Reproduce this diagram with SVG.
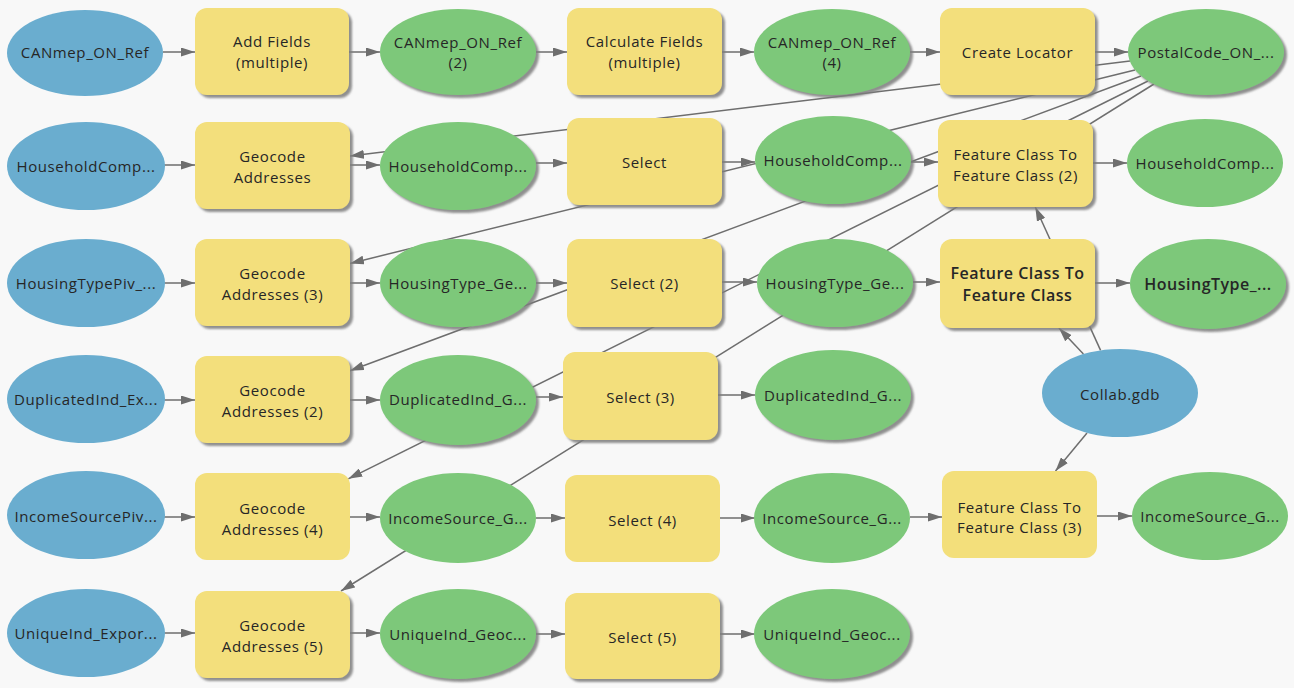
<svg xmlns="http://www.w3.org/2000/svg" width="1294" height="688" viewBox="0 0 1294 688">
  <defs>
    <style>
      .bg { fill: #f8f8f8; }
      .data { fill: #6aadcf; }
      .out { fill: #7dc87a; }
      .tool { fill: #f3df7b; }
      .lbl { font-family: "Open Sans", "Noto Sans", sans-serif; font-size: 15px; letter-spacing: 0.6px; fill: #262626; text-anchor: middle; }
      .big { font-size: 16px; font-weight: 600; letter-spacing: 0.5px; }
      .conn line { stroke: #6e6e6e; stroke-width: 1.5; fill: none; marker-end: url(#arrow); }
    </style>
    <marker id="arrow" viewBox="0 0 14 9" markerWidth="14" markerHeight="9" refX="14" refY="4.5" markerUnits="userSpaceOnUse" orient="auto">
      <path d="M0,0 L14,4.5 L0,9 z" fill="#6e6e6e"/>
    </marker>
    <filter id="sh" x="-10%" y="-10%" width="125%" height="125%">
      <feGaussianBlur in="SourceAlpha" stdDeviation="1"/>
      <feOffset dx="3" dy="3" result="o"/>
      <feFlood flood-color="#7d7d7d" flood-opacity="0.85"/>
      <feComposite in2="o" operator="in"/>
      <feMerge><feMergeNode/><feMergeNode in="SourceGraphic"/></feMerge>
    </filter>
  </defs>

  <rect class="bg" x="0" y="0" width="1294" height="688"/>

  <!-- connectors (drawn beneath the nodes) -->
  <g id="connectors" class="conn">
    <!-- row 1 -->
    <line x1="163" y1="52" x2="195" y2="52"/>
    <line x1="349" y1="52" x2="380" y2="52"/>
    <line x1="536" y1="52" x2="567" y2="52"/>
    <line x1="722" y1="52" x2="754" y2="52"/>
    <line x1="910" y1="52" x2="940" y2="52"/>
    <line x1="1095" y1="52" x2="1128" y2="52"/>
    <!-- row 2 -->
    <line x1="164" y1="165" x2="195" y2="165"/>
    <line x1="350" y1="165" x2="380" y2="165"/>
    <line x1="536" y1="163" x2="567" y2="163"/>
    <line x1="722" y1="162" x2="755" y2="162"/>
    <line x1="911" y1="162" x2="938" y2="162"/>
    <line x1="1093" y1="163" x2="1127" y2="163"/>
    <!-- row 3 -->
    <line x1="164" y1="283" x2="195" y2="283"/>
    <line x1="350" y1="283" x2="380" y2="283"/>
    <line x1="536" y1="283" x2="567" y2="283"/>
    <line x1="722" y1="282" x2="757" y2="282"/>
    <line x1="913" y1="282" x2="940" y2="282"/>
    <line x1="1095" y1="283" x2="1130" y2="283"/>
    <!-- row 4 -->
    <line x1="164" y1="400" x2="195" y2="400"/>
    <line x1="350" y1="400" x2="380" y2="400"/>
    <line x1="536" y1="397" x2="563" y2="397"/>
    <line x1="718" y1="395" x2="755" y2="395"/>
    <!-- row 5 -->
    <line x1="164" y1="517" x2="195" y2="517"/>
    <line x1="350" y1="517" x2="380" y2="517"/>
    <line x1="536" y1="518" x2="565" y2="518"/>
    <line x1="720" y1="518" x2="755" y2="518"/>
    <line x1="910" y1="517" x2="942" y2="517"/>
    <line x1="1097" y1="516" x2="1132" y2="516"/>
    <!-- row 6 -->
    <line x1="164" y1="633" x2="195" y2="633"/>
    <line x1="350" y1="633" x2="380" y2="633"/>
    <line x1="536" y1="634" x2="565" y2="634"/>
    <line x1="720" y1="634" x2="755" y2="634"/>
    <!-- locator feeding every geocode tool -->
    <line x1="1130" y1="61" x2="350" y2="156"/>
    <line x1="1135" y1="70" x2="350" y2="263.4"/>
    <line x1="1141" y1="76" x2="350" y2="370.7"/>
    <line x1="1148" y1="81" x2="348.3" y2="478.8"/>
    <line x1="1154" y1="84" x2="341" y2="591"/>
    <!-- workspace feeding the export tools -->
    <line x1="1100.6" y1="350.4" x2="1035.3" y2="207"/>
    <line x1="1083.4" y1="354.1" x2="1058.9" y2="328"/>
    <line x1="1087" y1="432.9" x2="1055.5" y2="471"/>
  </g>

  <!-- row 1 -->
  <g id="canmep-on-ref"><ellipse class="data" cx="85" cy="53" rx="78" ry="43"/><text class="lbl" x="85" y="58">CANmep_ON_Ref</text></g>
  <g id="add-fields"><rect class="tool" filter="url(#sh)" x="195" y="8" width="154" height="87" rx="12"/><text class="lbl" x="272" y="47">Add Fields</text><text class="lbl" x="272" y="67.5">(multiple)</text></g>
  <g id="canmep-on-ref-2"><ellipse class="out" filter="url(#sh)" cx="458" cy="52" rx="78" ry="43"/><text class="lbl" x="458" y="47.5">CANmep_ON_Ref</text><text class="lbl" x="458" y="67.5">(2)</text></g>
  <g id="calculate-fields"><rect class="tool" filter="url(#sh)" x="567" y="8" width="155" height="87" rx="12"/><text class="lbl" x="644.5" y="47">Calculate Fields</text><text class="lbl" x="644.5" y="67.5">(multiple)</text></g>
  <g id="canmep-on-ref-4"><ellipse class="out" filter="url(#sh)" cx="832" cy="52" rx="78" ry="43"/><text class="lbl" x="832" y="47.5">CANmep_ON_Ref</text><text class="lbl" x="832" y="67.5">(4)</text></g>
  <g id="create-locator"><rect class="tool" filter="url(#sh)" x="940" y="8" width="155" height="87" rx="12"/><text class="lbl" x="1017.5" y="58">Create Locator</text></g>
  <g id="postalcode-on"><ellipse class="out" filter="url(#sh)" cx="1206" cy="52" rx="78" ry="43"/><text class="lbl" x="1206" y="57.5">PostalCode_ON_...</text></g>

  <!-- row 2 -->
  <g id="householdcomp-in"><ellipse class="data" cx="86" cy="166" rx="79" ry="44"/><text class="lbl" x="86" y="171.5">HouseholdComp...</text></g>
  <g id="geocode-addresses"><rect class="tool" filter="url(#sh)" x="195" y="122" width="155" height="87" rx="12"/><text class="lbl" x="272.5" y="161.5">Geocode</text><text class="lbl" x="272.5" y="182.5">Addresses</text></g>
  <g id="householdcomp-geocoded"><ellipse class="out" filter="url(#sh)" cx="458" cy="166" rx="78" ry="44"/><text class="lbl" x="458" y="171.5">HouseholdComp...</text></g>
  <g id="select"><rect class="tool" filter="url(#sh)" x="567" y="118" width="155" height="87" rx="12"/><text class="lbl" x="644.5" y="168">Select</text></g>
  <g id="householdcomp-selected"><ellipse class="out" filter="url(#sh)" cx="833" cy="160" rx="78" ry="44"/><text class="lbl" x="833" y="166">HouseholdComp...</text></g>
  <g id="fc-to-fc-2"><rect class="tool" filter="url(#sh)" x="938" y="120" width="155" height="87" rx="12"/><text class="lbl" x="1015.5" y="160">Feature Class To</text><text class="lbl" x="1015.5" y="181">Feature Class (2)</text></g>
  <g id="householdcomp-out"><ellipse class="out" cx="1205" cy="163" rx="78" ry="44"/><text class="lbl" x="1205" y="169">HouseholdComp...</text></g>

  <!-- row 3 -->
  <g id="housingtypepiv-in"><ellipse class="data" cx="86" cy="283" rx="79" ry="44"/><text class="lbl" x="86" y="288.5">HousingTypePiv_...</text></g>
  <g id="geocode-addresses-3"><rect class="tool" filter="url(#sh)" x="195" y="239" width="155" height="87" rx="12"/><text class="lbl" x="272.5" y="279">Geocode</text><text class="lbl" x="272.5" y="299.5">Addresses (3)</text></g>
  <g id="housingtype-geocoded"><ellipse class="out" filter="url(#sh)" cx="458" cy="283" rx="78" ry="44"/><text class="lbl" x="458" y="288.5">HousingType_Ge...</text></g>
  <g id="select-2"><rect class="tool" filter="url(#sh)" x="567" y="239" width="155" height="88" rx="12"/><text class="lbl" x="644.5" y="289">Select (2)</text></g>
  <g id="housingtype-selected"><ellipse class="out" filter="url(#sh)" cx="835" cy="283" rx="78" ry="44"/><text class="lbl" x="835" y="288.5">HousingType_Ge...</text></g>
  <g id="fc-to-fc"><rect class="tool" filter="url(#sh)" x="940" y="239" width="155" height="89" rx="12"/><text class="lbl big" x="1017.5" y="279">Feature Class To</text><text class="lbl big" x="1017.5" y="300.5">Feature Class</text></g>
  <g id="housingtype-out"><ellipse class="out" filter="url(#sh)" cx="1208" cy="284" rx="78" ry="45"/><text class="lbl big" x="1208" y="290">HousingType_...</text></g>

  <!-- row 4 -->
  <g id="duplicatedind-in"><ellipse class="data" cx="86" cy="399" rx="79" ry="44"/><text class="lbl" x="86" y="405">DuplicatedInd_Ex...</text></g>
  <g id="geocode-addresses-2"><rect class="tool" filter="url(#sh)" x="195" y="356" width="155" height="87" rx="12"/><text class="lbl" x="272.5" y="396">Geocode</text><text class="lbl" x="272.5" y="416.5">Addresses (2)</text></g>
  <g id="duplicatedind-geocoded"><ellipse class="out" filter="url(#sh)" cx="458" cy="400" rx="78" ry="45"/><text class="lbl" x="458" y="405">DuplicatedInd_G...</text></g>
  <g id="select-3"><rect class="tool" filter="url(#sh)" x="563" y="352" width="155" height="88" rx="12"/><text class="lbl" x="640.5" y="402.5">Select (3)</text></g>
  <g id="duplicatedind-selected"><ellipse class="out" filter="url(#sh)" cx="833" cy="395" rx="78" ry="45"/><text class="lbl" x="833" y="401">DuplicatedInd_G...</text></g>
  <g id="collab-gdb"><ellipse class="data" cx="1120" cy="393" rx="78" ry="44"/><text class="lbl" x="1120" y="399.5">Collab.gdb</text></g>

  <!-- row 5 -->
  <g id="incomesourcepiv-in"><ellipse class="data" cx="86" cy="515" rx="79" ry="44"/><text class="lbl" x="86" y="522">IncomeSourcePiv...</text></g>
  <g id="geocode-addresses-4"><rect class="tool" x="195" y="473" width="155" height="87" rx="12"/><text class="lbl" x="272.5" y="514">Geocode</text><text class="lbl" x="272.5" y="535">Addresses (4)</text></g>
  <g id="incomesource-geocoded"><ellipse class="out" cx="458" cy="518" rx="78" ry="45"/><text class="lbl" x="458" y="523.5">IncomeSource_G...</text></g>
  <g id="select-4"><rect class="tool" x="565" y="475" width="155" height="87" rx="12"/><text class="lbl" x="642.5" y="526">Select (4)</text></g>
  <g id="incomesource-selected"><ellipse class="out" cx="832" cy="518" rx="78" ry="45"/><text class="lbl" x="832" y="523.5">IncomeSource_G...</text></g>
  <g id="fc-to-fc-3"><rect class="tool" x="942" y="471" width="155" height="87" rx="12"/><text class="lbl" x="1019.5" y="512.5">Feature Class To</text><text class="lbl" x="1019.5" y="533">Feature Class (3)</text></g>
  <g id="incomesource-out"><ellipse class="out" cx="1210" cy="516" rx="78" ry="44"/><text class="lbl" x="1210" y="522">IncomeSource_G...</text></g>

  <!-- row 6 -->
  <g id="uniqueind-in"><ellipse class="data" cx="86" cy="633" rx="79" ry="44"/><text class="lbl" x="86" y="639">UniqueInd_Expor...</text></g>
  <g id="geocode-addresses-5"><rect class="tool" filter="url(#sh)" x="195" y="591" width="155" height="87" rx="12"/><text class="lbl" x="272.5" y="631">Geocode</text><text class="lbl" x="272.5" y="651.5">Addresses (5)</text></g>
  <g id="uniqueind-geocoded"><ellipse class="out" filter="url(#sh)" cx="458" cy="634" rx="78" ry="45"/><text class="lbl" x="458" y="640">UniqueInd_Geoc...</text></g>
  <g id="select-5"><rect class="tool" filter="url(#sh)" x="565" y="593" width="155" height="86" rx="12"/><text class="lbl" x="642.5" y="642.5">Select (5)</text></g>
  <g id="uniqueind-selected"><ellipse class="out" filter="url(#sh)" cx="832" cy="634" rx="78" ry="45"/><text class="lbl" x="832" y="640">UniqueInd_Geoc...</text></g>
</svg>
